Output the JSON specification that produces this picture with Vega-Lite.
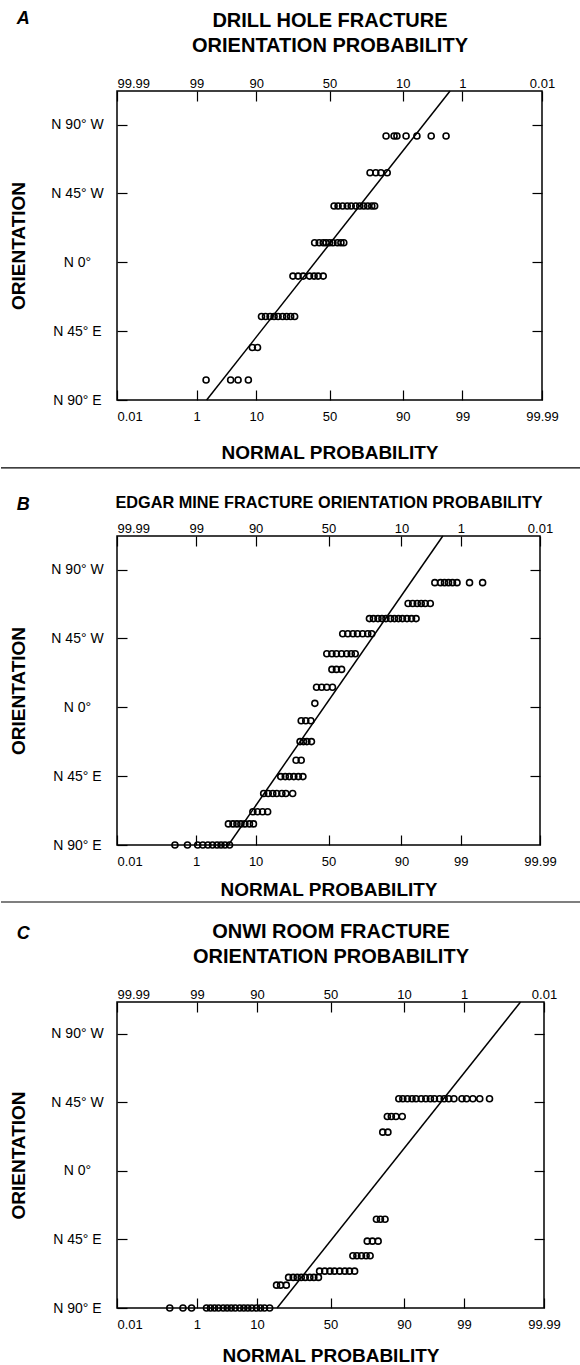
{
  "$schema": "https://vega.github.io/schema/vega-lite/v6.json",
  "padding": {"left": 0, "top": 9, "right": 0, "bottom": 0},
  "background": "white",
  "config": {
    "font": "Liberation Sans",
    "view": {"stroke": "black", "strokeWidth": 1.5},
    "axis": {"grid": false, "domain": false, "ticks": true, "tickSize": -10, "tickColor": "black", "tickWidth": 1.2,
      "labelColor": "black", "labelFont": "Liberation Sans", "labelFontSize": 13, "labelOverlap": false, "labelFlush": false, "labelBound": false,
      "titleColor": "black", "titleFont": "Liberation Sans", "titleFontWeight": "bold", "titleFontSize": 19},
    "title": {"color": "black", "font": "Liberation Sans"}
  },
  "columns": 1,
  "spacing": 0,
  "concat": [
    {
      "width": 425, "height": 309,
      "title": {"text": "A", "anchor": "start", "frame": "bounds", "fontStyle": "italic", "fontWeight": "bold", "fontSize": 18, "offset": -18, "dx": 7},
      "layer": [
        {
          "data": {"values": [
            {"z": 0.99, "deg": 82.6}, {"z": 1.13, "deg": 82.6}, {"z": 1.18, "deg": 82.6}, {"z": 1.34, "deg": 82.6}, {"z": 1.53, "deg": 82.6}, {"z": 1.78, "deg": 82.6}, {"z": 2.04, "deg": 82.6},
            {"z": 0.71, "deg": 58.6}, {"z": 0.81, "deg": 58.6}, {"z": 0.90, "deg": 58.6}, {"z": 1.01, "deg": 58.6},
            {"z": 0.08, "deg": 36.8}, {"z": 0.15, "deg": 36.8}, {"z": 0.23, "deg": 36.8}, {"z": 0.31, "deg": 36.8}, {"z": 0.38, "deg": 36.8}, {"z": 0.46, "deg": 36.8}, {"z": 0.53, "deg": 36.8}, {"z": 0.60, "deg": 36.8}, {"z": 0.67, "deg": 36.8}, {"z": 0.74, "deg": 36.8}, {"z": 0.79, "deg": 36.8},
            {"z": -0.26, "deg": 12.8}, {"z": -0.18, "deg": 12.8}, {"z": -0.11, "deg": 12.8}, {"z": -0.06, "deg": 12.8}, {"z": 0.0, "deg": 12.8}, {"z": 0.06, "deg": 12.8}, {"z": 0.14, "deg": 12.8}, {"z": 0.20, "deg": 12.8}, {"z": 0.25, "deg": 12.8},
            {"z": -0.64, "deg": -9}, {"z": -0.55, "deg": -9}, {"z": -0.46, "deg": -9}, {"z": -0.35, "deg": -9}, {"z": -0.27, "deg": -9}, {"z": -0.20, "deg": -9}, {"z": -0.11, "deg": -9},
            {"z": -1.19, "deg": -35.4}, {"z": -1.12, "deg": -35.4}, {"z": -1.04, "deg": -35.4}, {"z": -0.97, "deg": -35.4}, {"z": -0.90, "deg": -35.4}, {"z": -0.82, "deg": -35.4}, {"z": -0.75, "deg": -35.4}, {"z": -0.68, "deg": -35.4}, {"z": -0.61, "deg": -35.4},
            {"z": -1.35, "deg": -55.7}, {"z": -1.26, "deg": -55.7},
            {"z": -2.16, "deg": -76.9}, {"z": -1.73, "deg": -76.9}, {"z": -1.60, "deg": -76.9}, {"z": -1.42, "deg": -76.9}
          ]},
          "mark": {"type": "point", "shape": "circle", "filled": false, "size": 36, "strokeWidth": 1.6, "color": "black", "opacity": 1},
          "encoding": {
            "x": {"field": "z", "type": "quantitative", "scale": {"domain": [-3.719, 3.719], "nice": false, "zero": false},
              "axis": {"orient": "bottom", "values": [-3.719, -2.326, -1.2816, 0, 1.2816, 2.326, 3.719],
                "labelExpr": "datum.value < -3 ? '0.01' : datum.value < -2 ? '1' : datum.value < -1 ? '10' : datum.value < 1 ? '50' : datum.value < 2 ? '90' : datum.value < 3 ? '99' : '99.99'",
                "labelAlign": {"condition": {"test": "datum.value < -3", "value": "left"}, "value": "center"},
                "labelPadding": 20, "title": "NORMAL PROBABILITY", "titlePadding": 20}},
            "y": {"field": "deg", "type": "quantitative", "scale": {"domain": [-90, 112], "nice": false, "zero": false},
              "axis": {"orient": "left", "values": [90, 45, 0, -45, -90],
                "labelExpr": "datum.value > 60 ? 'N 90° W' : datum.value > 20 ? 'N 45° W' : datum.value > -20 ? 'N 0°' : datum.value > -60 ? 'N 45° E' : 'N 90° E'",
                "labelAlign": "center", "labelPadding": 50, "labelFontSize": 14, "title": "ORIENTATION", "titlePadding": 22}}
          }
        },
        {
          "data": {"values": [{"z": -2.15, "deg": -90}, {"z": 2.11, "deg": 112}]},
          "mark": {"type": "line", "color": "black", "strokeWidth": 1.5},
          "encoding": {
            "x": {"field": "z", "type": "quantitative", "scale": {"domain": [-3.719, 3.719], "nice": false, "zero": false},
              "axis": {"orient": "top", "values": [-3.719, -2.326, -1.2816, 0, 1.2816, 2.326, 3.719],
                "labelExpr": "datum.value < -3 ? '99.99' : datum.value < -2 ? '99' : datum.value < -1 ? '90' : datum.value < 1 ? '50' : datum.value < 2 ? '10' : datum.value < 3 ? '1' : '0.01'",
                "labelAlign": {"condition": {"test": "datum.value < -3", "value": "left"}, "value": "center"},
                "labelPadding": 11, "title": ["DRILL HOLE FRACTURE", "ORIENTATION PROBABILITY"], "titleFontSize": 20, "titleLineHeight": 25, "titlePadding": 22}},
            "y": {"field": "deg", "type": "quantitative", "scale": {"domain": [-90, 112], "nice": false, "zero": false},
              "axis": {"orient": "right", "values": [90, 45, 0, -45], "labels": false, "title": null}}
          }
        }
      ],
      "resolve": {"axis": {"x": "independent", "y": "independent"}}
    },
    {
      "width": 580, "height": 30,
      "view": {"stroke": null},
      "data": {"values": [{"a": -0.2, "b": 0.8, "h": 0.837}]},
      "mark": {"type": "rule", "color": "black", "strokeWidth": 1.2},
      "encoding": {
        "x": {"field": "a", "type": "quantitative", "scale": {"domain": [0, 1]}, "axis": null},
        "x2": {"field": "b"},
        "y": {"field": "h", "type": "quantitative", "scale": {"domain": [0, 1]}, "axis": null}
      }
    },
    {
      "width": 423, "height": 309,
      "title": {"text": "B", "anchor": "start", "frame": "bounds", "fontStyle": "italic", "fontWeight": "bold", "fontSize": 18, "offset": -20, "dx": 7},
      "layer": [
        {
          "data": {"values": [
            {"z": 1.87, "deg": 81.5}, {"z": 1.97, "deg": 81.5}, {"z": 2.04, "deg": 81.5}, {"z": 2.11, "deg": 81.5}, {"z": 2.18, "deg": 81.5}, {"z": 2.26, "deg": 81.5}, {"z": 2.48, "deg": 81.5}, {"z": 2.71, "deg": 81.5},
            {"z": 1.40, "deg": 67.9}, {"z": 1.48, "deg": 67.9}, {"z": 1.56, "deg": 67.9}, {"z": 1.63, "deg": 67.9}, {"z": 1.70, "deg": 67.9}, {"z": 1.79, "deg": 67.9},
            {"z": 0.72, "deg": 58}, {"z": 0.79, "deg": 58}, {"z": 0.87, "deg": 58}, {"z": 0.94, "deg": 58}, {"z": 1.01, "deg": 58}, {"z": 1.09, "deg": 58}, {"z": 1.16, "deg": 58}, {"z": 1.23, "deg": 58}, {"z": 1.30, "deg": 58}, {"z": 1.38, "deg": 58}, {"z": 1.46, "deg": 58}, {"z": 1.54, "deg": 58},
            {"z": 0.25, "deg": 48.1}, {"z": 0.34, "deg": 48.1}, {"z": 0.43, "deg": 48.1}, {"z": 0.51, "deg": 48.1}, {"z": 0.60, "deg": 48.1}, {"z": 0.69, "deg": 48.1}, {"z": 0.76, "deg": 48.1},
            {"z": -0.03, "deg": 35}, {"z": 0.06, "deg": 35}, {"z": 0.14, "deg": 35}, {"z": 0.23, "deg": 35}, {"z": 0.32, "deg": 35}, {"z": 0.40, "deg": 35}, {"z": 0.47, "deg": 35},
            {"z": 0.06, "deg": 24.8}, {"z": 0.14, "deg": 24.8}, {"z": 0.23, "deg": 24.8},
            {"z": -0.21, "deg": 13.1}, {"z": -0.12, "deg": 13.1}, {"z": -0.03, "deg": 13.1}, {"z": 0.07, "deg": 13.1},
            {"z": -0.24, "deg": 2.6},
            {"z": -0.48, "deg": -8.8}, {"z": -0.40, "deg": -8.8}, {"z": -0.31, "deg": -8.8},
            {"z": -0.50, "deg": -22.4}, {"z": -0.44, "deg": -22.4}, {"z": -0.38, "deg": -22.4}, {"z": -0.30, "deg": -22.4},
            {"z": -0.57, "deg": -34.6}, {"z": -0.48, "deg": -34.6},
            {"z": -0.84, "deg": -45.3}, {"z": -0.76, "deg": -45.3}, {"z": -0.69, "deg": -45.3}, {"z": -0.61, "deg": -45.3}, {"z": -0.53, "deg": -45.3}, {"z": -0.45, "deg": -45.3},
            {"z": -1.14, "deg": -56.3}, {"z": -1.06, "deg": -56.3}, {"z": -0.98, "deg": -56.3}, {"z": -0.91, "deg": -56.3}, {"z": -0.82, "deg": -56.3}, {"z": -0.75, "deg": -56.3}, {"z": -0.63, "deg": -56.3},
            {"z": -1.33, "deg": -68.3}, {"z": -1.25, "deg": -68.3}, {"z": -1.16, "deg": -68.3}, {"z": -1.07, "deg": -68.3},
            {"z": -1.76, "deg": -76.2}, {"z": -1.68, "deg": -76.2}, {"z": -1.61, "deg": -76.2}, {"z": -1.54, "deg": -76.2}, {"z": -1.47, "deg": -76.2}, {"z": -1.39, "deg": -76.2}, {"z": -1.32, "deg": -76.2},
            {"z": -2.70, "deg": -90}, {"z": -2.48, "deg": -90}, {"z": -2.30, "deg": -90}, {"z": -2.21, "deg": -90}, {"z": -2.12, "deg": -90}, {"z": -2.04, "deg": -90}, {"z": -1.96, "deg": -90}, {"z": -1.89, "deg": -90}, {"z": -1.82, "deg": -90}, {"z": -1.74, "deg": -90}
          ]},
          "mark": {"type": "point", "shape": "circle", "filled": false, "size": 36, "strokeWidth": 1.6, "color": "black", "opacity": 1, "clip": false},
          "encoding": {
            "x": {"field": "z", "type": "quantitative", "scale": {"domain": [-3.719, 3.719], "nice": false, "zero": false},
              "axis": {"orient": "bottom", "values": [-3.719, -2.326, -1.2816, 0, 1.2816, 2.326, 3.719],
                "labelExpr": "datum.value < -3 ? '0.01' : datum.value < -2 ? '1' : datum.value < -1 ? '10' : datum.value < 1 ? '50' : datum.value < 2 ? '90' : datum.value < 3 ? '99' : '99.99'",
                "labelAlign": {"condition": {"test": "datum.value < -3", "value": "left"}, "value": "center"},
                "labelPadding": 20, "title": "NORMAL PROBABILITY", "titlePadding": 12}},
            "y": {"field": "deg", "type": "quantitative", "scale": {"domain": [-90, 112], "nice": false, "zero": false},
              "axis": {"orient": "left", "values": [90, 45, 0, -45, -90],
                "labelExpr": "datum.value > 60 ? 'N 90° W' : datum.value > 20 ? 'N 45° W' : datum.value > -20 ? 'N 0°' : datum.value > -60 ? 'N 45° E' : 'N 90° E'",
                "labelAlign": "center", "labelPadding": 50, "labelFontSize": 14, "title": "ORIENTATION", "titlePadding": 22}}
          }
        },
        {
          "data": {"values": [{"z": -1.76, "deg": -90}, {"z": 2.01, "deg": 112}]},
          "mark": {"type": "line", "color": "black", "strokeWidth": 1.5},
          "encoding": {
            "x": {"field": "z", "type": "quantitative", "scale": {"domain": [-3.719, 3.719], "nice": false, "zero": false},
              "axis": {"orient": "top", "values": [-3.719, -2.326, -1.2816, 0, 1.2816, 2.326, 3.719],
                "labelExpr": "datum.value < -3 ? '99.99' : datum.value < -2 ? '99' : datum.value < -1 ? '90' : datum.value < 1 ? '50' : datum.value < 2 ? '10' : datum.value < 3 ? '1' : '0.01'",
                "labelAlign": {"condition": {"test": "datum.value < -3", "value": "left"}, "value": "center"},
                "labelPadding": 11, "title": "EDGAR MINE FRACTURE ORIENTATION PROBABILITY", "titleFontSize": 16.3, "titlePadding": 12}},
            "y": {"field": "deg", "type": "quantitative", "scale": {"domain": [-90, 112], "nice": false, "zero": false},
              "axis": {"orient": "right", "values": [90, 45, 0, -45], "labels": false, "title": null}}
          }
        }
      ],
      "resolve": {"axis": {"x": "independent", "y": "independent"}}
    },
    {
      "width": 580, "height": 20,
      "view": {"stroke": null},
      "data": {"values": [{"a": -0.2, "b": 0.8, "h": 0.9}]},
      "mark": {"type": "rule", "color": "black", "strokeWidth": 1.2},
      "encoding": {
        "x": {"field": "a", "type": "quantitative", "scale": {"domain": [0, 1]}, "axis": null},
        "x2": {"field": "b"},
        "y": {"field": "h", "type": "quantitative", "scale": {"domain": [0, 1]}, "axis": null}
      }
    },
    {
      "width": 427, "height": 306,
      "title": {"text": "C", "anchor": "start", "frame": "bounds", "fontStyle": "italic", "fontWeight": "bold", "fontSize": 18, "offset": -22, "dx": 7},
      "layer": [
        {
          "data": {"values": [
            {"z": 1.19, "deg": 47.4}, {"z": 1.26, "deg": 47.4}, {"z": 1.34, "deg": 47.4}, {"z": 1.42, "deg": 47.4}, {"z": 1.49, "deg": 47.4}, {"z": 1.58, "deg": 47.4}, {"z": 1.66, "deg": 47.4}, {"z": 1.74, "deg": 47.4}, {"z": 1.81, "deg": 47.4}, {"z": 1.90, "deg": 47.4}, {"z": 1.98, "deg": 47.4}, {"z": 2.06, "deg": 47.4}, {"z": 2.15, "deg": 47.4}, {"z": 2.29, "deg": 47.4}, {"z": 2.37, "deg": 47.4}, {"z": 2.48, "deg": 47.4}, {"z": 2.60, "deg": 47.4}, {"z": 2.77, "deg": 47.4},
            {"z": 0.99, "deg": 35.8}, {"z": 1.06, "deg": 35.8}, {"z": 1.14, "deg": 35.8}, {"z": 1.25, "deg": 35.8},
            {"z": 0.91, "deg": 25.5}, {"z": 1.00, "deg": 25.5},
            {"z": 0.80, "deg": -31.7}, {"z": 0.87, "deg": -31.7}, {"z": 0.95, "deg": -31.7},
            {"z": 0.64, "deg": -46.1}, {"z": 0.73, "deg": -46.1}, {"z": 0.83, "deg": -46.1},
            {"z": 0.39, "deg": -55.7}, {"z": 0.46, "deg": -55.7}, {"z": 0.54, "deg": -55.7}, {"z": 0.62, "deg": -55.7}, {"z": 0.69, "deg": -55.7},
            {"z": -0.19, "deg": -65.8}, {"z": -0.10, "deg": -65.8}, {"z": -0.01, "deg": -65.8}, {"z": 0.07, "deg": -65.8}, {"z": 0.16, "deg": -65.8}, {"z": 0.25, "deg": -65.8}, {"z": 0.33, "deg": -65.8}, {"z": 0.42, "deg": -65.8},
            {"z": -0.73, "deg": -69.9}, {"z": -0.65, "deg": -69.9}, {"z": -0.58, "deg": -69.9}, {"z": -0.51, "deg": -69.9}, {"z": -0.44, "deg": -69.9}, {"z": -0.36, "deg": -69.9}, {"z": -0.29, "deg": -69.9}, {"z": -0.21, "deg": -69.9},
            {"z": -0.94, "deg": -75}, {"z": -0.87, "deg": -75}, {"z": -0.77, "deg": -75},
            {"z": -2.80, "deg": -90}, {"z": -2.57, "deg": -90}, {"z": -2.42, "deg": -90}, {"z": -2.16, "deg": -90}, {"z": -2.09, "deg": -90}, {"z": -2.02, "deg": -90}, {"z": -1.95, "deg": -90}, {"z": -1.87, "deg": -90}, {"z": -1.80, "deg": -90}, {"z": -1.73, "deg": -90}, {"z": -1.66, "deg": -90}, {"z": -1.58, "deg": -90}, {"z": -1.51, "deg": -90}, {"z": -1.44, "deg": -90}, {"z": -1.37, "deg": -90}, {"z": -1.29, "deg": -90}, {"z": -1.22, "deg": -90}, {"z": -1.15, "deg": -90}, {"z": -1.06, "deg": -90}
          ]},
          "mark": {"type": "point", "shape": "circle", "filled": false, "size": 36, "strokeWidth": 1.6, "color": "black", "opacity": 1, "clip": false},
          "encoding": {
            "x": {"field": "z", "type": "quantitative", "scale": {"domain": [-3.719, 3.719], "nice": false, "zero": false},
              "axis": {"orient": "bottom", "values": [-3.719, -2.326, -1.2816, 0, 1.2816, 2.326, 3.719],
                "labelExpr": "datum.value < -3 ? '0.01' : datum.value < -2 ? '1' : datum.value < -1 ? '10' : datum.value < 1 ? '50' : datum.value < 2 ? '90' : datum.value < 3 ? '99' : '99.99'",
                "labelAlign": {"condition": {"test": "datum.value < -3", "value": "left"}, "value": "center"},
                "labelPadding": 20, "title": "NORMAL PROBABILITY", "titlePadding": 15}},
            "y": {"field": "deg", "type": "quantitative", "scale": {"domain": [-90, 111], "nice": false, "zero": false},
              "axis": {"orient": "left", "values": [90, 45, 0, -45, -90],
                "labelExpr": "datum.value > 60 ? 'N 90° W' : datum.value > 20 ? 'N 45° W' : datum.value > -20 ? 'N 0°' : datum.value > -60 ? 'N 45° E' : 'N 90° E'",
                "labelAlign": "center", "labelPadding": 50, "labelFontSize": 14, "title": "ORIENTATION", "titlePadding": 22}}
          }
        },
        {
          "data": {"values": [{"z": -0.93, "deg": -90}, {"z": 3.31, "deg": 111}]},
          "mark": {"type": "line", "color": "black", "strokeWidth": 1.5},
          "encoding": {
            "x": {"field": "z", "type": "quantitative", "scale": {"domain": [-3.719, 3.719], "nice": false, "zero": false},
              "axis": {"orient": "top", "values": [-3.719, -2.326, -1.2816, 0, 1.2816, 2.326, 3.719],
                "labelExpr": "datum.value < -3 ? '99.99' : datum.value < -2 ? '99' : datum.value < -1 ? '90' : datum.value < 1 ? '50' : datum.value < 2 ? '10' : datum.value < 3 ? '1' : '0.01'",
                "labelAlign": {"condition": {"test": "datum.value < -3", "value": "left"}, "value": "center"},
                "labelPadding": 11, "title": ["ONWI ROOM FRACTURE", "ORIENTATION PROBABILITY"], "titleFontSize": 20, "titleLineHeight": 25, "titlePadding": 22}},
            "y": {"field": "deg", "type": "quantitative", "scale": {"domain": [-90, 111], "nice": false, "zero": false},
              "axis": {"orient": "right", "values": [90, 45, 0, -45], "labels": false, "title": null}}
          }
        }
      ],
      "resolve": {"axis": {"x": "independent", "y": "independent"}}
    }
  ]
}
